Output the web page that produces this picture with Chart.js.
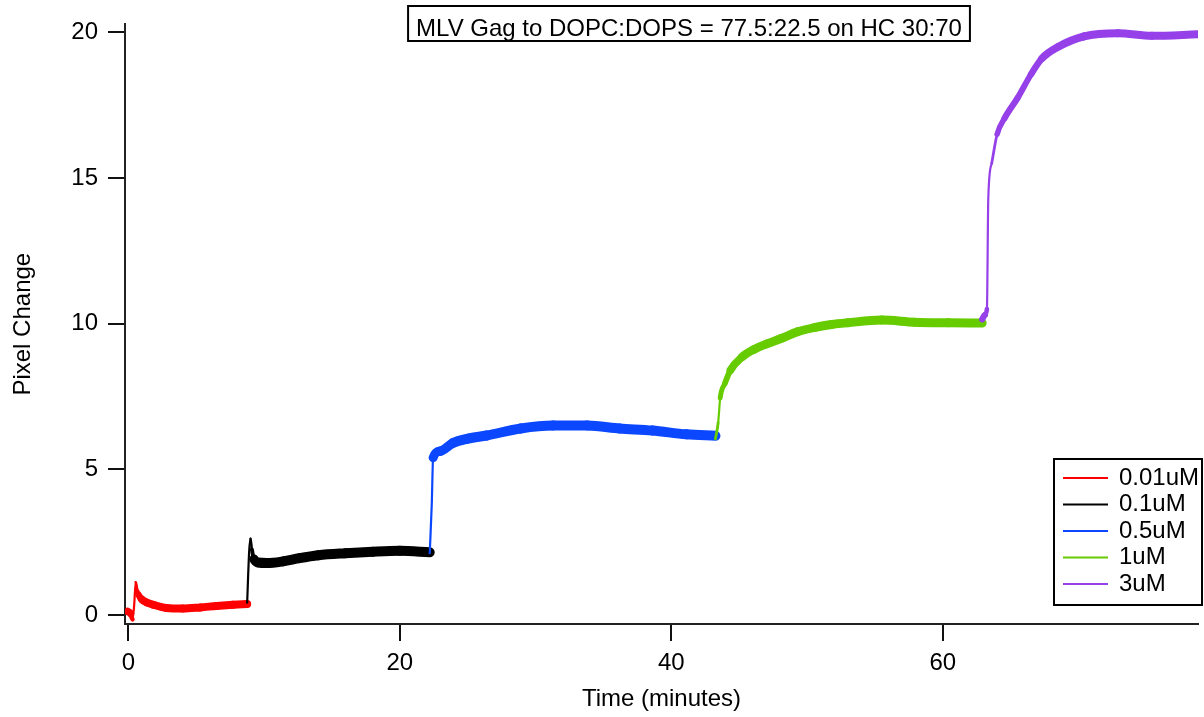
<!DOCTYPE html>
<html><head><meta charset="utf-8">
<script src="https://cdn.jsdelivr.net/npm/chart.js@4/dist/chart.umd.min.js"></script>
<style>html,body{margin:0;padding:0;background:#fff;overflow:hidden}</style>
</head><body>
<canvas id="c" width="1204" height="717"></canvas>
<script>
const titleText = 'MLV Gag to DOPC:DOPS = 77.5:22.5 on HC 30:70';
const xAxisTitle = 'Time (minutes)';
const yAxisTitle = 'Pixel Change';
const xTicks = [0, 20, 40, 60];
const yTicks = [0, 5, 10, 15, 20];
const seriesLabels = ['0.01uM', '0.1uM', '0.5uM', '1uM', '3uM'];
const seriesColors = ['#ff0000', '#000000', '#0a47ff', '#66cc00', '#9540e8'];

const redX = [-0.05, 0.15, 0.3, 0.42, 0.54, 0.66, 0.74, 0.98, 1.35, 1.84, 2.8, 4.0, 5.3, 6.5, 7.7, 8.75];
const redY = [0.12, 0.05, -0.15, 0.3, 1.12, 0.82, 0.7, 0.54, 0.43, 0.35, 0.24, 0.22, 0.26, 0.31, 0.35, 0.38];

const blackX = [8.75, 8.9, 9.0, 9.1, 9.25, 9.55, 10.2, 11.4, 12.6, 14.0, 16.0, 18.0, 20.0, 22.2];
const blackY = [0.42, 2.2, 2.62, 2.25, 1.92, 1.8, 1.78, 1.84, 1.95, 2.05, 2.12, 2.17, 2.2, 2.15];

const blueX = [22.2, 22.35, 22.45, 22.95, 23.9, 25.0, 26.4, 28.9, 31.3, 33.8, 36.2, 38.6, 41.1, 43.25];
const blueY = [2.12, 3.8, 5.4, 5.62, 5.9, 6.05, 6.16, 6.4, 6.5, 6.5, 6.4, 6.33, 6.2, 6.15];

const greenX = [43.25, 43.45, 43.6, 43.95, 44.35, 45.2, 46.1, 47.0, 48.1, 49.3, 50.6, 51.8, 53.0, 55.5, 57.9, 60.4, 62.9];
const greenY = [6.05, 6.6, 7.45, 7.95, 8.4, 8.85, 9.12, 9.3, 9.49, 9.72, 9.87, 9.97, 10.03, 10.12, 10.05, 10.03, 10.02];

const purpleX = [62.9, 63.1, 63.25, 63.35, 63.6, 64.0, 64.55, 65.5, 66.5, 67.3, 68.5, 70.4, 72.9, 75.4, 78.8];
const purpleY = [10.15, 10.3, 10.5, 14.3, 15.5, 16.5, 17.05, 17.74, 18.56, 19.1, 19.5, 19.86, 19.97, 19.88, 19.93];

const seriesX = [redX, blackX, blueX, greenX, purpleX];
const seriesY = [redY, blackY, blueY, greenY, purpleY];
const bandWidths = [8, 10, 10, 9, 8];

const FONT = 'Liberation Sans, Arial, sans-serif';

function segWidth(band) {
  return ctx => {
    const dx = Math.abs(ctx.p1.x - ctx.p0.x) || 0.001;
    const dy = Math.abs(ctx.p1.y - ctx.p0.y);
    const s = dy / dx / 2;
    return Math.max(2.2, band / Math.sqrt(1 + s * s));
  };
}

const datasets = seriesLabels.map((lab, i) => ({
  label: lab,
  data: seriesX[i].map((x, j) => ({ x: x, y: seriesY[i][j] })),
  borderColor: seriesColors[i],
  backgroundColor: seriesColors[i],
  borderWidth: bandWidths[i],
  pointRadius: 0,
  fill: false,
  cubicInterpolationMode: 'monotone',
  borderCapStyle: 'round',
  borderJoinStyle: 'round',
  order: 5 - i,
  segment: { borderWidth: segWidth(bandWidths[i]) }
}));

const decorations = {
  id: 'decorations',
  afterDraw(chart) {
    const ctx = chart.ctx;
    ctx.save();
    // title box
    ctx.font = '24px ' + FONT;
    ctx.fillStyle = '#000';
    ctx.textAlign = 'center';
    ctx.textBaseline = 'alphabetic';
    const tcx = 689;
    const tw = ctx.measureText(titleText).width;
    ctx.fillText(titleText, tcx, 36);
    ctx.strokeStyle = '#000';
    ctx.lineWidth = 2;
    ctx.strokeRect(tcx - tw / 2 - 8, 6, tw + 16, 35);
    // legend
    const lx = 1054, ly = 459, lw = 148, lh = 146;
    ctx.fillStyle = '#fff';
    ctx.fillRect(lx, ly, lw, lh);
    ctx.strokeRect(lx, ly, lw, lh);
    ctx.textAlign = 'left';
    ctx.textBaseline = 'middle';
    chart.data.datasets.forEach((ds, i) => {
      const y = 478 + i * 26.5;
      ctx.strokeStyle = ds.borderColor;
      ctx.lineWidth = 2;
      ctx.beginPath();
      ctx.moveTo(1063, y);
      ctx.lineTo(1108, y);
      ctx.stroke();
      ctx.fillStyle = '#000';
      ctx.fillText(ds.label, 1119, y);
    });
    ctx.restore();
  }
};

new Chart(document.getElementById('c'), {
  type: 'line',
  data: { datasets: datasets },
  options: {
    responsive: false,
    animation: false,
    devicePixelRatio: 1,
    layout: { padding: { top: 23, right: 6, left: 0, bottom: 0 } },
    plugins: { legend: { display: false }, title: { display: false }, tooltip: { enabled: false } },
    scales: {
      x: {
        type: 'linear', min: -0.25, max: 78.8,
        afterBuildTicks: s => { s.ticks = xTicks.map(v => ({ value: v })); },
        afterFit: s => { s.height = 93; },
        grid: { drawOnChartArea: false, drawTicks: true, tickLength: 17, color: '#111', lineWidth: 2 },
        border: { display: true, color: '#222', width: 2 },
        ticks: { color: '#000', font: { family: FONT, size: 24 }, padding: 8, maxRotation: 0, autoSkip: false },
        title: { display: true, text: xAxisTitle, color: '#000', font: { family: FONT, size: 24 }, padding: { top: 0, bottom: 3 } }
      },
      y: {
        type: 'linear', min: -0.31, max: 20.27,
        afterBuildTicks: s => { s.ticks = yTicks.map(v => ({ value: v })); },
        afterFit: s => { s.width = 125; },
        grid: { drawOnChartArea: false, drawTicks: true, tickLength: 17, color: '#111', lineWidth: 2 },
        border: { display: true, color: '#222', width: 2 },
        ticks: { color: '#000', font: { family: FONT, size: 24 }, padding: 10 },
        title: { display: true, text: yAxisTitle, color: '#000', font: { family: FONT, size: 24 }, padding: { top: 9, bottom: 0 } }
      }
    }
  },
  plugins: [decorations]
});
</script>
</body></html>
